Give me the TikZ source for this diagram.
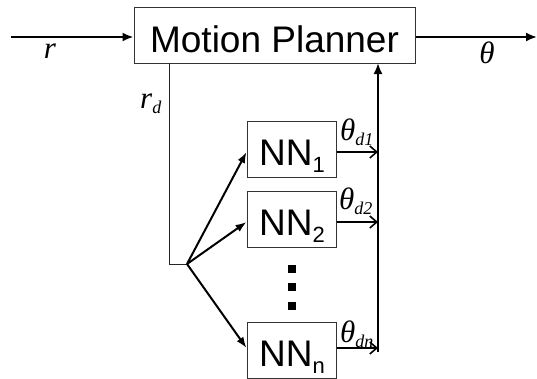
\documentclass[tikz,border=0pt]{standalone}
\usepackage{fontspec}
\setmainfont{Liberation Serif}
\newfontfamily\sansf{Liberation Sans}
\usetikzlibrary{arrows.meta}
\newcommand{\sub}[1]{\raisebox{-5pt}{\fontsize{18}{18}\selectfont\itshape #1}}
\tikzset{
  box/.style={draw=black!80, line width=1pt, inner sep=0pt},
  big/.style={font=\sansf\fontsize{37}{37}\selectfont, inner sep=0pt},
  sym/.style={font=\fontsize{31}{31}\selectfont\itshape, inner sep=0pt},
  sig/.style={line width=2pt, -{Latex[length=11pt,width=9pt]}},
  thin line/.style={line width=1pt, draw=black!85},
  fan/.style={line width=2pt, -{Latex[length=11pt,width=8pt]}},
  outa/.style={line width=2pt, -{Straight Barb[length=7pt,width=12pt,line width=1.6pt]}},
  dotsq/.style={fill=black, inner sep=0pt, minimum size=8pt}
}
\begin{document}
\begin{tikzpicture}[x=1pt,y=-1pt]
\useasboundingbox (0,0) rectangle (537,378);
% Motion planner
\node[box, minimum width=281pt, minimum height=56pt] (mp) at (274.5,35) {};
\node[big, anchor=base] (mpt) at (274.5,52) {Motion Planner};
% NN boxes
\node[box, minimum width=89pt, minimum height=56pt] (nn1) at (291.5,149) {};
\node[box, minimum width=89pt, minimum height=56pt] (nn2) at (291.5,219) {};
\node[box, minimum width=89pt, minimum height=56pt] (nnn) at (291.5,350) {};
\node[big, anchor=base west] (nn1t) at (259,165) {NN\raisebox{-7pt}{\fontsize{22}{22}\selectfont 1}};
\node[big, anchor=base west] (nn2t) at (259,235) {NN\raisebox{-7pt}{\fontsize{22}{22}\selectfont 2}};
\node[big, anchor=base west] (nnnt) at (259,366) {NN\raisebox{-7pt}{\fontsize{22}{22}\selectfont n}};
% dots
\node[dotsq] (dA) at (292,269) {};
\node[dotsq] (dB) at (292,287) {};
\node[dotsq] (dC) at (292,306) {};
% coordinates
\coordinate (in) at (11,37);
\coordinate (out) at (537,37);
\coordinate (rdtop) at (169,63);
\coordinate (rdbot) at (169,264);
\coordinate (j) at (187,264);
\coordinate (fbtop) at (378,63);
\coordinate (fbbot) at (378,352);
\coordinate (o1) at (378,152);
\coordinate (o2) at (378,222);
\coordinate (on) at (378,348);
% input / output
\draw[sig] (in) -- (mp.west |- in);
\draw[sig] (mp.east |- out) -- (out);
\node[sym, anchor=base] (rl) at (50,58) {r};
\node[sym, anchor=base] (thl) at (487,63) {θ};
% rd line
\draw[thin line] (rdtop) -- (rdbot) -- (j);
\node[sym, anchor=base west] (rdl) at (140,108) {r\sub{d}};
% fan-out
\draw[fan] (j) -- (nn1.west |- o1);
\draw[fan] (j) -- (nn2.west |- o2);
\draw[fan] (j) -- (nnn.west |- on);
% outputs of NN
\draw[outa] (nn1.east |- o1) -- (o1);
\draw[outa] (nn2.east |- o2) -- (o2);
\draw[outa] (nnn.east |- on) -- (on);
\node[sym, anchor=base west] (t1) at (340,140) {θ\sub{d1}};
\node[sym, anchor=base west] (t2) at (339,209) {θ\sub{d2}};
\node[sym, anchor=base west] (tn) at (340,342) {θ\sub{dn}};
% feedback
\draw[sig] (fbbot) -- (fbtop);
\end{tikzpicture}
\end{document}
